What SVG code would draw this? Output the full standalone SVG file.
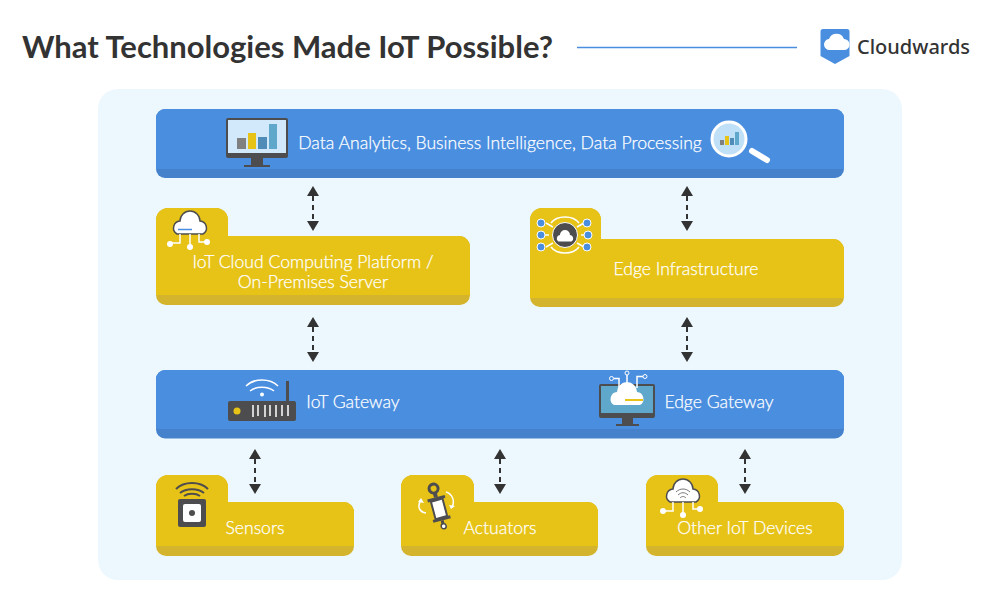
<svg xmlns="http://www.w3.org/2000/svg" width="1000" height="600" viewBox="0 0 1000 600">
<style>
text{font-family:"Lato","Open Sans",sans-serif;font-weight:300;fill:#fff;stroke:#fff;stroke-width:.25px;font-size:17.600px;text-anchor:middle}
.blue{fill:#4a8ee0}.blued{fill:#4682cb}.yel{fill:#e7c317}.yeld{fill:#d4b42c}
.conn{stroke:#333;stroke-width:2;stroke-dasharray:5 4;fill:none;marker-start:url(#up);marker-end:url(#down)}
.dk{fill:#4d4d4f}.wl{stroke:#fff;fill:none;stroke-width:1.5}
</style>
<defs>
<marker id="up" markerUnits="userSpaceOnUse" markerWidth="12" markerHeight="10" refX="6" refY="10" orient="0"><path d="M6 0L12 10H0Z" fill="#333"/></marker>
<marker id="down" markerUnits="userSpaceOnUse" markerWidth="12" markerHeight="10" refX="6" refY="0" orient="0"><path d="M0 0H12L6 10Z" fill="#333"/></marker>
<path id="cloud" d="M-13 11A7 7 0 0 1-10-2A10 10 0 0 1 10-2A7 7 0 0 1 13 11Z"/>
</defs>
<rect width="1000" height="600" fill="#fff"/>
<rect x="98" y="89" width="804" height="491" rx="20" fill="#edf8fe"/>
<text x="22" y="58" style="font-family:'Lato','Open Sans',sans-serif;font-size:31px;font-weight:700;fill:#333;stroke:none;text-anchor:start">What Technologies Made IoT Possible?</text>
<line x1="577" y1="47.500" x2="797" y2="47.500" stroke="#4a8ee0" stroke-width="1.500"/>
<g id="logo">
<path d="M823 29H847a2.500 2.500 0 0 1 2.500 2.500V56L835 64L820.500 56V31.500A2.500 2.500 0 0 1 823 29Z" fill="#4a8ee0"/>
<path d="M830 50a5.500 5.500 0 0 1-1-11a8 8 0 0 1 15 0a5.500 5.500 0 0 1 0 11Z" fill="#fff"/>
<text x="857" y="53.500" style="font-family:'Noto Sans','Open Sans',sans-serif;font-size:20px;font-weight:500;fill:#333;stroke:none;text-anchor:start">Cloudwards</text>
</g>
<g id="connectors">
<line class="conn" x1="313" y1="196" x2="313" y2="221"/>
<line class="conn" x1="687" y1="196" x2="687" y2="221"/>
<line class="conn" x1="313" y1="327" x2="313" y2="352"/>
<line class="conn" x1="687" y1="327" x2="687" y2="352"/>
<line class="conn" x1="255" y1="459" x2="255" y2="484"/>
<line class="conn" x1="500" y1="459" x2="500" y2="484"/>
<line class="conn" x1="745" y1="459" x2="745" y2="484"/>
</g>
<g id="analytics">
<rect class="blued" x="156" y="109" width="688" height="69" rx="9"/>
<path class="blue" d="M165 109H835a9 9 0 0 1 9 9V169H156V118a9 9 0 0 1 9-9Z"/>
<rect x="226" y="118" width="62" height="40" rx="2" fill="#4d4d4f"/>
<rect x="228" y="120" width="58" height="33" fill="#d2e8fb"/>
<rect x="237" y="138" width="9" height="11" fill="#808080"/>
<rect x="248" y="133" width="8" height="16" fill="#e7c317"/>
<rect x="258" y="137" width="9" height="12" fill="#4f8db8"/>
<rect x="269" y="124" width="8" height="25" fill="#5fa8cb"/>
<path class="dk" d="M251 158H263V165H270V167H244V165H251Z"/>
<text x="500" y="149">Data Analytics, Business Intelligence, Data Processing</text>
<circle cx="729" cy="139" r="17" fill="#bfe0f7" stroke="#fff" stroke-width="3"/>
<rect x="720" y="140" width="4" height="5" fill="#808080"/>
<rect x="725" y="136" width="4" height="9" fill="#e7c317"/>
<rect x="730" y="138" width="4" height="7" fill="#4f8db8"/>
<rect x="735" y="132" width="4" height="13" fill="#5fa8cb"/>
<line x1="752" y1="151" x2="767" y2="160" stroke="#fff" stroke-width="6" stroke-linecap="round"/>
</g>
<g id="cloud-platform">
<path class="yeld" d="M168 208H216a12 12 0 0 1 12 12V236H459a11 11 0 0 1 11 11V295a10 10 0 0 1-10 10H166a10 10 0 0 1-10-10V220a12 12 0 0 1 12-12Z"/>
<path class="yel" d="M168 208H216a12 12 0 0 1 12 12V236H459a11 11 0 0 1 11 11V295H156V220a12 12 0 0 1 12-12Z"/>
<use href="#cloud" x="190" y="223" fill="#fff" stroke="#4d4d4f" stroke-width="1.500"/>
<line x1="178" y1="229.500" x2="192" y2="229.500" stroke="#4a8ee0" stroke-width="1.500"/>
<path class="wl" d="M180 234V243H170M190 234V247M199 234V242H207"/>
<circle cx="170" cy="244" r="3" fill="#fff"/><circle cx="190" cy="247" r="3" fill="#fff"/><circle cx="207" cy="242" r="3" fill="#fff"/>
<text x="313" y="268">IoT Cloud Computing Platform /</text>
<text x="313" y="288">On-Premises Server</text>
</g>
<g id="edge-infrastructure">
<path class="yeld" d="M542 208H589a12 12 0 0 1 12 12V239H833a11 11 0 0 1 11 11V297a10 10 0 0 1-10 10H540a10 10 0 0 1-10-10V220a12 12 0 0 1 12-12Z"/>
<path class="yel" d="M542 208H589a12 12 0 0 1 12 12V239H833a11 11 0 0 1 11 11V298H530V220a12 12 0 0 1 12-12Z"/>
<path class="wl" d="M551 223C557 215 573 215 579 223M551 247C557 255 573 255 579 247M545 235H549M581 235H585M546 223L553 227M584 223L577 227M546 247L553 243M584 247L577 243" stroke-width="1"/>
<circle cx="565" cy="235" r="12.500" class="dk" stroke="#fff"/>
<use href="#cloud" transform="translate(565 236) scale(.5)" fill="#fff"/>
<g fill="#4a8ee0" stroke="#fff"><circle cx="541" cy="223" r="4"/><circle cx="541" cy="235" r="4"/><circle cx="541" cy="247" r="4"/><circle cx="587" cy="223" r="4"/><circle cx="588" cy="235" r="4"/><circle cx="587" cy="247" r="4"/></g>
<text x="686" y="275">Edge Infrastructure</text>
</g>
<g id="gateway">
<rect class="blued" x="156" y="370" width="688" height="68.500" rx="9"/>
<path class="blue" d="M165 370H835a9 9 0 0 1 9 9V429H156V379a9 9 0 0 1 9-9Z"/>
<rect x="228" y="401" width="68" height="20" rx="2" class="dk"/>
<circle cx="237" cy="411" r="3.500" fill="#e7c317"/>
<path d="M253 405V417M258 405V416M265 405V417M270 405V416M276 405V417M282 405V416M288 405V416" stroke="#fff" stroke-width="1.500"/>
<rect x="286" y="381" width="3" height="20" class="dk"/>
<path class="wl" d="M246 386C254 378 270 378 278 386M250 391C256 386 268 386 274 391" stroke-width="2"/>
<circle cx="262" cy="394.500" r="2" fill="#fff"/>
<text x="353" y="408">IoT Gateway</text>
<rect x="599" y="384" width="56" height="34" rx="2" class="dk"/>
<rect x="601" y="386" width="52" height="27" fill="#5fa8cb"/>
<path class="dk" d="M622 418H633V424H639V426H616V424H622Z"/>
<use href="#cloud" x="627" y="394" fill="#fff"/>
<line x1="625" y1="400" x2="643" y2="400" stroke="#e7c317" stroke-width="2"/>
<path class="wl" d="M614 378.500H619V388M627 375V386M643 376.500H637V388" stroke-width="1"/>
<circle cx="611.500" cy="378.500" r="2" fill="none" stroke="#fff"/><circle cx="627" cy="373" r="2" fill="none" stroke="#fff"/><circle cx="645" cy="376.500" r="2" fill="none" stroke="#fff"/>
<text x="719" y="408">Edge Gateway</text>
</g>
<g id="sensors">
<path class="yeld" d="M168 475H216a12 12 0 0 1 12 12V502H344a10 10 0 0 1 10 10V546a10 10 0 0 1-10 10H166a10 10 0 0 1-10-10V487a12 12 0 0 1 12-12Z"/>
<path class="yel" d="M168 475H216a12 12 0 0 1 12 12V502H344a10 10 0 0 1 10 10V546H156V487a12 12 0 0 1 12-12Z"/>
<path d="M176 489C184 481 200 481 208 489M180 493C186 488 198 488 204 493M184 496C188 493 196 493 200 496" stroke="#4d4d4f" stroke-width="2" fill="none"/>
<rect x="178" y="499" width="28" height="28" rx="2" class="dk"/>
<rect x="183" y="504" width="18" height="18" rx="2" fill="#fff"/>
<circle cx="192" cy="513" r="3" class="dk"/>
<text x="255" y="534">Sensors</text>
</g>
<g id="actuators">
<path class="yeld" d="M413 475H462a12 12 0 0 1 12 12V502H588a10 10 0 0 1 10 10V546a10 10 0 0 1-10 10H411a10 10 0 0 1-10-10V487a12 12 0 0 1 12-12Z"/>
<path class="yel" d="M413 475H462a12 12 0 0 1 12 12V502H588a10 10 0 0 1 10 10V546H401V487a12 12 0 0 1 12-12Z"/>
<g transform="rotate(-15 438 505)">
<circle cx="438" cy="488" r="4.500" fill="#e7c317" stroke="#4d4d4f" stroke-width="3"/>
<line x1="438" y1="492" x2="438" y2="497" stroke="#4d4d4f" stroke-width="4"/>
<rect x="429" y="497" width="18" height="3" class="dk"/>
<rect x="432" y="500" width="12" height="18" fill="#fff" stroke="#4d4d4f" stroke-width="2"/>
<rect x="429" y="518" width="18" height="3" class="dk"/>
<line x1="438" y1="521" x2="438" y2="525" stroke="#4d4d4f" stroke-width="3"/>
<circle cx="438" cy="527" r="2.500" fill="#fff" stroke="#4d4d4f" stroke-width="1.500"/>
</g>
<path class="wl" d="M421 500C417 506 419 512 426 513M446 492C453 494 455 502 452 507"/>
<path d="M418 502L421 498L424 503ZM449 505L455 506L451 509Z" fill="#fff"/>
<text x="500" y="534">Actuators</text>
</g>
<g id="other-devices">
<path class="yeld" d="M658 475H706a12 12 0 0 1 12 12V502H833a11 11 0 0 1 11 11V546a10 10 0 0 1-10 10H656a10 10 0 0 1-10-10V487a12 12 0 0 1 12-12Z"/>
<path class="yel" d="M658 475H706a12 12 0 0 1 12 12V502H833a11 11 0 0 1 11 11V546H646V487a12 12 0 0 1 12-12Z"/>
<use href="#cloud" x="683" y="491" fill="#fff" stroke="#4d4d4f" stroke-width="1.500"/>
<path d="M676 492C680 488 686 488 690 492M678 495C681 492 685 492 688 495M680 498C682 496 684 496 686 498" stroke="#777" stroke-width="1" fill="none"/>
<path class="wl" d="M673 502V511H663M683 502V514M693 502V509H700"/>
<circle cx="663" cy="511" r="3" fill="#fff"/><circle cx="683" cy="515" r="3" fill="#fff"/><circle cx="700" cy="509" r="3" fill="#fff"/>
<text x="745" y="534">Other IoT Devices</text>
</g>
</svg>
